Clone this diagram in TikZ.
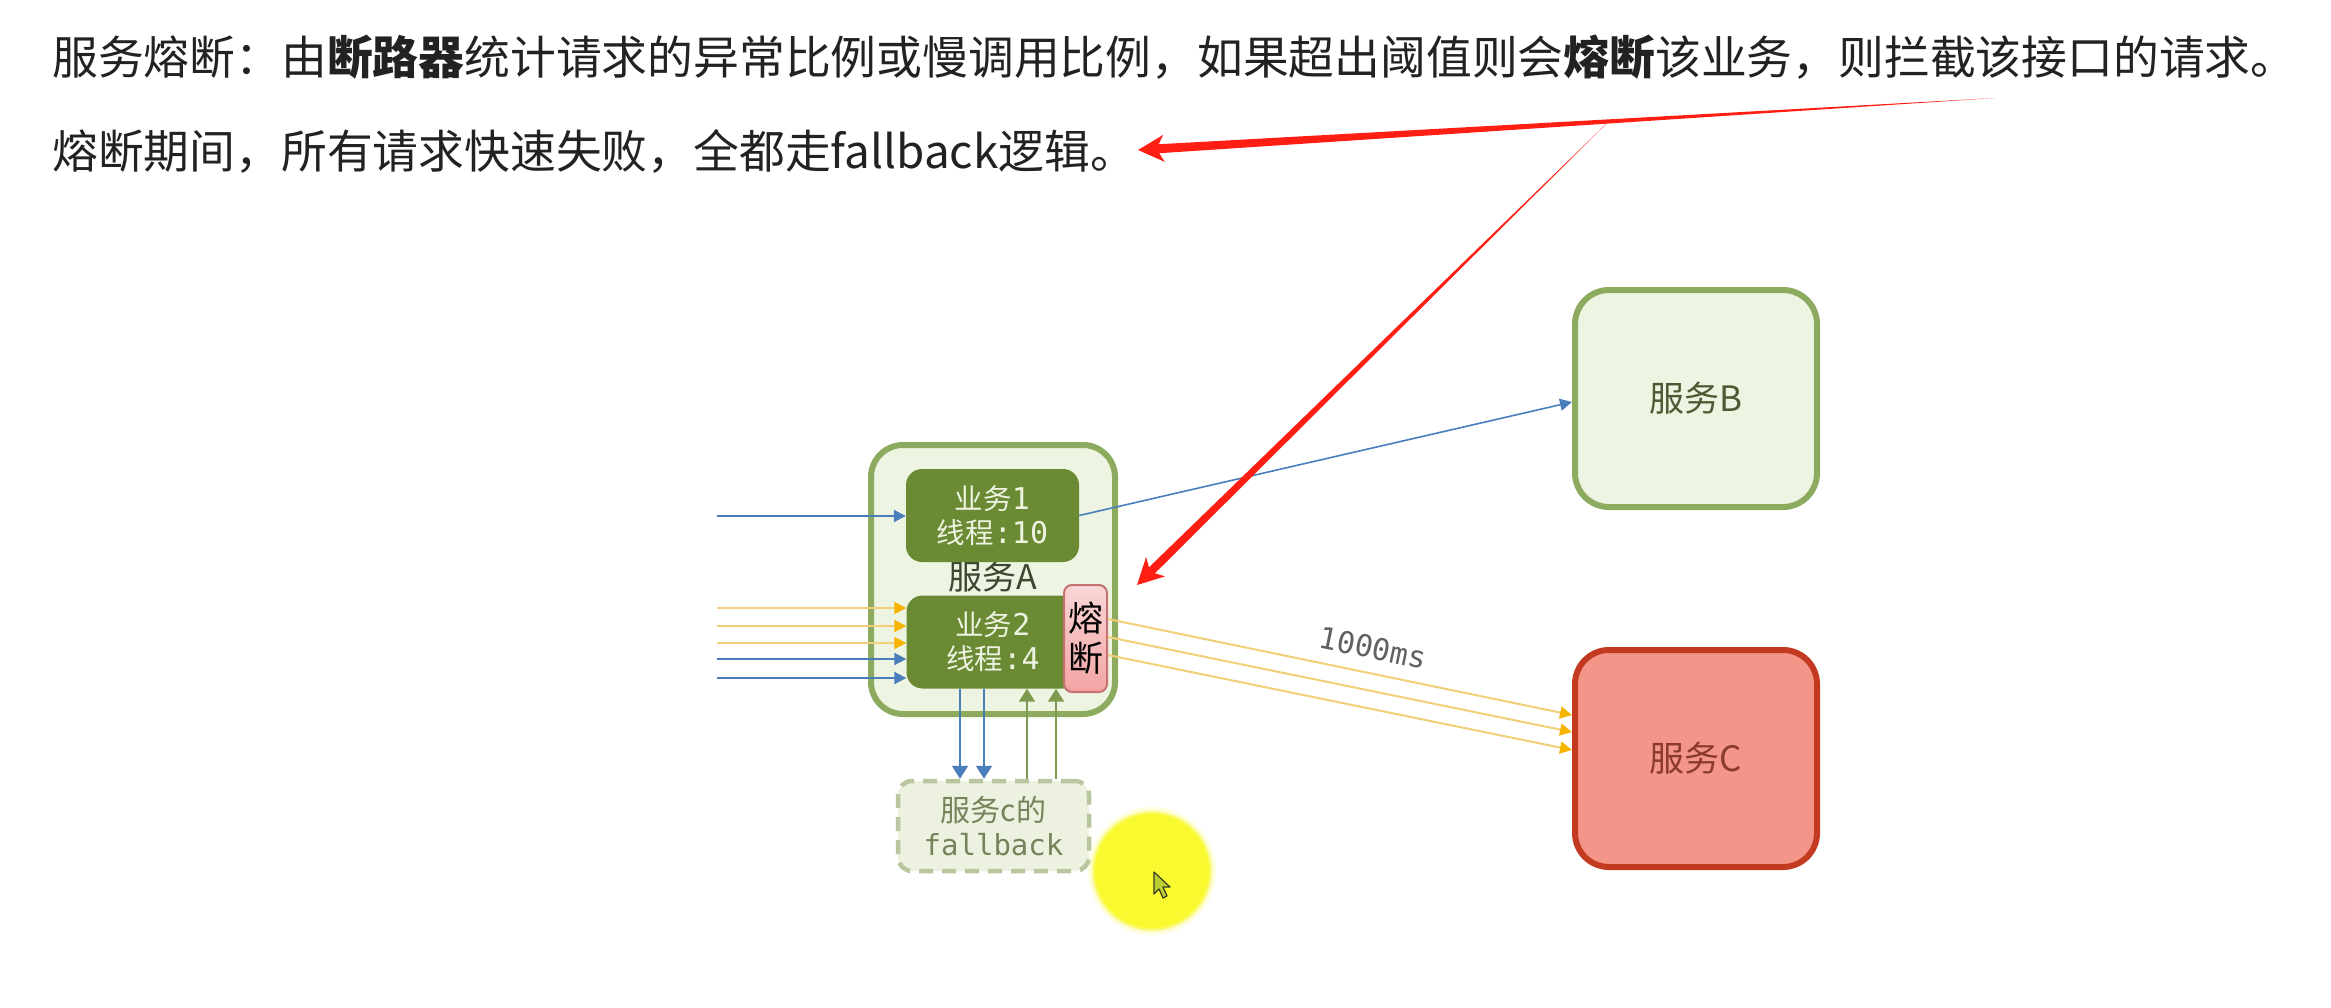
\documentclass[tikz,border=0pt]{standalone}
\usepackage{fontspec}
\setmainfont{Noto Sans CJK SC}
\newfontfamily\mono{DejaVu Sans Mono}
\usetikzlibrary{arrows.meta,calc}
\definecolor{agreen}{HTML}{8DAB5E}
\definecolor{alight}{HTML}{EEF4E2}
\definecolor{bizfill}{HTML}{6A8B34}
\definecolor{biztext}{HTML}{EEF2E0}
\definecolor{atext}{HTML}{3E4632}
\definecolor{fusefillA}{HTML}{FAD6D6}
\definecolor{fusefillB}{HTML}{F3A4A4}
\definecolor{fusedraw}{HTML}{C77272}
\definecolor{fbfill}{HTML}{ECF1E0}
\definecolor{fbdraw}{HTML}{BAC6A0}
\definecolor{fbtext}{HTML}{75845A}
\definecolor{btext}{HTML}{4C5A33}
\definecolor{cfill}{HTML}{F4958A}
\definecolor{cdraw}{HTML}{C23A20}
\definecolor{ctext}{HTML}{8A3B2B}
\definecolor{blueline}{HTML}{4A7EBB}
\definecolor{greenline}{HTML}{7E9A50}
\definecolor{yline}{HTML}{F2D07A}
\definecolor{yhead}{HTML}{F4B400}
\definecolor{redarr}{HTML}{FF1E14}
\definecolor{hl}{HTML}{F9F930}
\definecolor{curfill}{HTML}{B9CF32}
\definecolor{curdraw}{HTML}{3A3A20}
\definecolor{maintext}{HTML}{222222}
\tikzset{
  svcbox/.style={line width=6pt, rounded corners=34pt, minimum width=242pt, minimum height=217pt, inner sep=0pt, font=\fontsize{35}{38}\selectfont},
  bizbox/.style={fill=bizfill, rounded corners=16pt, minimum width=173pt, minimum height=93pt, inner sep=0pt, text=biztext, align=center, font=\fontsize{28.5}{34}\selectfont},
  bluearr/.style={draw=blueline, line width=2pt, -{Triangle[length=12pt,width=12pt]}},
  bluedown/.style={draw=blueline, line width=2pt, -{Triangle[length=13pt,width=16pt]}},
  greenup/.style={draw=greenline, line width=2pt, -{Triangle[length=13pt,width=16pt]}},
  yarr/.style={draw=yline, line width=2pt, -{Triangle[length=12pt,width=12pt,color=yhead]}},
  redfill/.style={fill=redarr},
}
\newcommand{\monodigits}[1]{{\mono\fontsize{30}{34}\selectfont #1}}
\begin{document}
\begin{tikzpicture}[x=1pt,y=-1pt]
\useasboundingbox (0,0) rectangle (2331,1007);
\fill[white] (0,0) rectangle (2331,1007);

% heading text
\node[anchor=base west, inner sep=0pt, text=maintext, font=\fontsize{45.8}{50}\selectfont] (t1) at (52,74)
  {服务熔断：由\textbf{断路器}统计请求的异常比例或慢调用比例，如果超出阈值则会\textbf{熔断}该业务，则拦截该接口的请求。};
\node[anchor=base west, inner sep=0pt, text=maintext, font=\fontsize{45.8}{50}\selectfont] (t2) at (52,168)
  {熔断期间，所有请求快速失败，全都走fallback逻辑。};

% service A
\node[svcbox, draw=agreen, fill=alight, minimum width=244pt, minimum height=269pt, rounded corners=32pt] (A) at (993,579.5) {};
\node[text=atext, font=\fontsize{34}{36}\selectfont, inner sep=0pt] (alabel) at (993,577) {服务A};
\node[bizbox] (biz1) at (992.5,515.5) {业务\monodigits{1}\\线程\monodigits{:10}};
\node[bizbox] (biz2) at (993,642) {业务\monodigits{2}\\线程\monodigits{:4}};
\node[draw=fusedraw, line width=2pt, top color=fusefillA, bottom color=fusefillB, rounded corners=8pt,
      minimum width=43pt, minimum height=107pt, inner sep=0pt, align=center,
      font=\fontsize{35}{40}\selectfont, text=black] (fuse) at (1085.5,638.5) {熔\\断};

% fallback
\node[draw=fbdraw, fill=fbfill, line width=4.5pt, dash pattern=on 14pt off 9pt, rounded corners=14pt,
      minimum width=191pt, minimum height=90pt, inner sep=0pt, align=center, text=fbtext,
      font=\fontsize{30}{34}\selectfont] (fb) at (993.5,826) {服务c的\\{\mono\fontsize{29}{34}\selectfont fallback}};

% services B and C
\node[svcbox, draw=agreen, fill=alight, text=btext] (B) at (1696,398.5) {服务B};
\node[svcbox, draw=cdraw, fill=cfill, text=ctext] (C) at (1696,758.5) {服务C};

% incoming arrows
\coordinate (in0) at (717,516);
\coordinate (in1) at (717,608);
\coordinate (in2) at (717,626);
\coordinate (in3) at (717,643);
\coordinate (in4) at (717,659);
\coordinate (in5) at (717,678);
\draw[bluearr] (in0) -- (in0 -| biz1.west);
\draw[yarr] (in1) -- (in1 -| biz2.west);
\draw[yarr] (in2) -- (in2 -| biz2.west);
\draw[yarr] (in3) -- (in3 -| biz2.west);
\draw[bluearr] (in4) -- (in4 -| biz2.west);
\draw[bluearr] (in5) -- (in5 -| biz2.west);

% biz1 -> B
\draw[bluearr, line width=1.6pt] (biz1.east) -- ($(B.west)+(0,3.5)$);

% fuse -> C (1000ms)
\draw[yarr] ($(fuse.east)+(0,-19.5)$) -- node[pos=0.56, sloped, above=13pt, inner sep=0pt, text=black!62, font=\mono\fontsize{30}{32}\selectfont] (lbl) {1000ms} ($(C.west)+(0,-43.5)$);
\draw[yarr] ($(fuse.east)+(0,-1.5)$) -- ($(C.west)+(0,-26.5)$);
\draw[yarr] ($(fuse.east)+(0,16.5)$) -- ($(C.west)+(0,-8.5)$);

% biz2 <-> fallback
\draw[bluedown] ($(biz2.south)+(-33,0)$) -- ($(fb.north)+(-33.5,0)$);
\draw[bluedown] ($(biz2.south)+(-9,0)$) -- ($(fb.north)+(-9.5,0)$);
\draw[greenup] ($(fb.north)+(33.5,0)$) -- ($(biz2.south)+(34,0)$);
\draw[greenup] ($(fb.north)+(62.5,0)$) -- ($(biz2.south)+(63,0)$);

% red annotation arrows
\coordinate (r1t) at (1995,98);
\coordinate (r1p) at (1138,150);
\coordinate (r1j) at ($(r1p)!21pt!(r1t)$);
\coordinate (r1b) at ($(r1p)!26pt!(r1t)$);
\fill[redfill] (r1t) -- ($(r1j)!4.5pt!90:(r1p)$) -- ($(r1b)!13.5pt!90:(r1p)$) -- (r1p)
  -- ($(r1b)!13.5pt!-90:(r1p)$) -- ($(r1j)!4.5pt!-90:(r1p)$) -- cycle;
\coordinate (r2t) at (1606,124);
\coordinate (r2p) at (1137,585);
\coordinate (r2j) at ($(r2p)!21pt!(r2t)$);
\coordinate (r2b) at ($(r2p)!26pt!(r2t)$);
\fill[redfill] (r2t) -- ($(r2j)!4.2pt!90:(r2p)$) -- ($(r2b)!13.5pt!90:(r2p)$) -- (r2p)
  -- ($(r2b)!13.5pt!-90:(r2p)$) -- ($(r2j)!4.2pt!-90:(r2p)$) -- cycle;

% cursor highlight
\coordinate (hlc) at (1152,871);
\fill[hl, opacity=0.15] (hlc) circle (64);
\fill[hl, opacity=0.3] (hlc) circle (61);
\fill[hl, opacity=0.6] (hlc) circle (59);
\fill[hl] (hlc) circle (57);
\coordinate (cur) at (1154,872);
\filldraw[fill=curfill, draw=curdraw, line width=1.2pt, line join=round] (cur) -- ++(0,22) -- ++(5,-5) -- ++(4,9) -- ++(4,-2) -- ++(-4,-9) -- ++(7,0) -- cycle;
\end{tikzpicture}
\end{document}
